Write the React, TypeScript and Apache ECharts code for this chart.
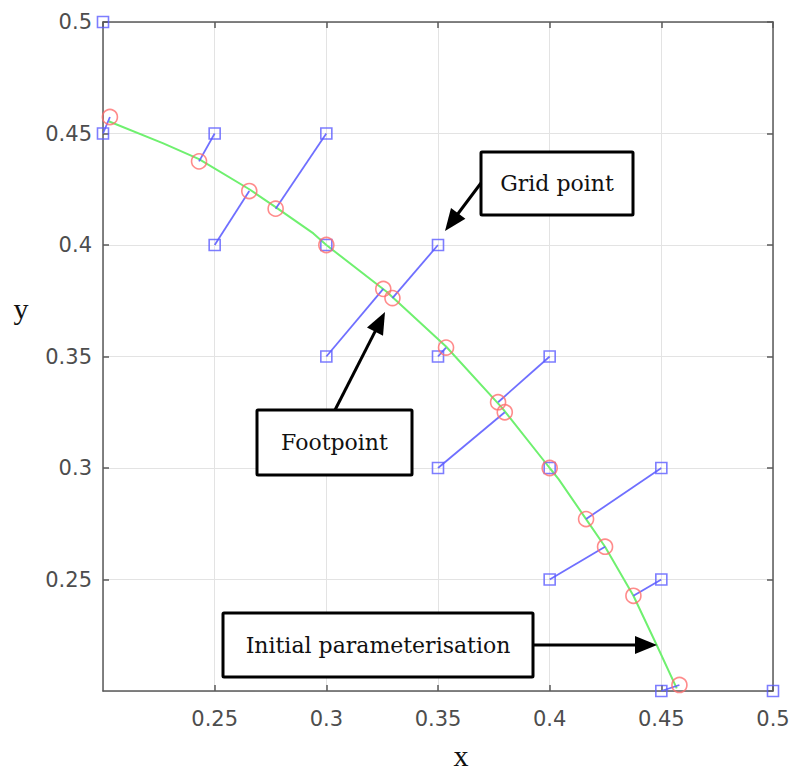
import React, { useEffect, useRef } from "react";
import * as echarts from "echarts";

// Grid points (blue squares)
const gridX = [0.2, 0.2, 0.25, 0.3, 0.25, 0.3, 0.35, 0.3, 0.35, 0.4, 0.35, 0.4, 0.45, 0.4, 0.45, 0.45, 0.5];
const gridY = [0.5, 0.45, 0.45, 0.45, 0.4, 0.4, 0.4, 0.35, 0.35, 0.35, 0.3, 0.3, 0.3, 0.25, 0.25, 0.2, 0.2];
// Footpoints (red circles), aligned with grid points (null = no footpoint)
const footX = [null, 0.2031, 0.243, 0.2773, 0.2655, 0.3, 0.3296, 0.3255, 0.3536, 0.3769, 0.3799, 0.4, 0.4163, 0.4248, 0.4375, 0.4581, null];
const footY = [null, 0.4574, 0.4375, 0.4163, 0.4242, 0.4, 0.3762, 0.3803, 0.354, 0.3295, 0.325, 0.3, 0.2771, 0.2647, 0.2427, 0.2027, null];
// Initial parameterisation (green curve)
const curveX = [0.2025, 0.227, 0.243, 0.2655, 0.2773, 0.2942, 0.3, 0.327, 0.3536, 0.3785, 0.4, 0.404, 0.4163, 0.4248, 0.4375, 0.4476, 0.4569];
const curveY = [0.4555, 0.4456, 0.4385, 0.425, 0.417, 0.4052, 0.4, 0.379, 0.3545, 0.3272, 0.3, 0.295, 0.2771, 0.2647, 0.2427, 0.2213, 0.2012];
// Tick labels
const xTickValues = [0.25, 0.3, 0.35, 0.4, 0.45, 0.5];
const xTickLabels = ["0.25", "0.3", "0.35", "0.4", "0.45", "0.5"];
const yTickValues = [0.25, 0.3, 0.35, 0.4, 0.45, 0.5];
const yTickLabels = ["0.25", "0.3", "0.35", "0.4", "0.45", "0.5"];

const AXIS_COLOR = "#5a5a5a";

function labelFor(values: number[], labels: string[]) {
  return (v: number) => {
    const i = values.findIndex((t) => Math.abs(t - v) < 1e-9);
    return i >= 0 ? labels[i] : "";
  };
}

function arrow(x1: number, y1: number, x2: number, y2: number, headLen = 22, headW = 9) {
  const dx = x2 - x1;
  const dy = y2 - y1;
  const len = Math.sqrt(dx * dx + dy * dy);
  const ux = dx / len;
  const uy = dy / len;
  const bx = x2 - ux * headLen;
  const by = y2 - uy * headLen;
  const nx = -uy;
  const ny = ux;
  return [
    {
      type: "line",
      z: 100,
      shape: { x1, y1, x2: bx + ux * 2, y2: by + uy * 2 },
      style: { stroke: "#000", lineWidth: 3 },
    },
    {
      type: "polygon",
      z: 100,
      shape: {
        points: [
          [x2, y2],
          [bx + nx * headW, by + ny * headW],
          [bx - nx * headW, by - ny * headW],
        ],
      },
      style: { fill: "#000" },
    },
  ];
}

function box(x: number, y: number, w: number, h: number, text: string) {
  return [
    {
      type: "rect",
      z: 100,
      shape: { x, y, width: w, height: h, r: 1 },
      style: { fill: "#fff", stroke: "#000", lineWidth: 3 },
    },
    {
      type: "text",
      z: 101,
      x: x + w / 2,
      y: y + h / 2,
      style: {
        text,
        fill: "#111",
        font: '22px "DejaVu Serif"',
        align: "center",
        verticalAlign: "middle",
        textAlign: "center",
        textVerticalAlign: "middle",
      },
    },
  ];
}

export default function App() {
  const ref = useRef<HTMLDivElement>(null);

  useEffect(() => {
    if (!ref.current) return;
    const chart = echarts.init(ref.current, undefined, { renderer: "svg" });

    const squares = gridX.map((x, i) => [x, gridY[i]]);
    const circles: number[][] = [];
    const links: any[] = [];
    gridX.forEach((x, i) => {
      const fx = footX[i];
      const fy = footY[i];
      if (fx !== null && fy !== null) {
        circles.push([fx, fy]);
        links.push({ coords: [[x, gridY[i]], [fx, fy]] });
      }
    });
    const curve = curveX.map((x, i) => [x, curveY[i]]);

    const baseAxis = {
      type: "value",
      min: 0.2,
      max: 0.5,
      interval: 0.05,
      axisLine: { show: true, onZero: false, lineStyle: { color: AXIS_COLOR, width: 1.5 } },
      axisTick: { show: true, inside: true, length: 6, lineStyle: { color: AXIS_COLOR, width: 1.5 } },
    };

    const labelStyle = {
      color: "#4d4d4d",
      fontFamily: "DejaVu Sans",
      fontSize: 21,
    };

    chart.setOption({
      animation: false,
      backgroundColor: "#fff",
      grid: { left: 103, top: 22, width: 670, height: 669, containLabel: false },
      xAxis: [
        {
          ...baseAxis,
          position: "bottom",
          axisLabel: {
            ...labelStyle,
            margin: 17,
            showMinLabel: false,
            formatter: labelFor(xTickValues, xTickLabels),
          },
          splitLine: { show: true, lineStyle: { color: "#e3e3e3", width: 1 } },
        },
        {
          ...baseAxis,
          position: "top",
          axisLabel: { show: false },
          splitLine: { show: false },
        },
      ],
      yAxis: [
        {
          ...baseAxis,
          position: "left",
          axisLabel: {
            ...labelStyle,
            margin: 11,
            showMinLabel: false,
            formatter: labelFor(yTickValues, yTickLabels),
          },
          splitLine: { show: true, lineStyle: { color: "#e3e3e3", width: 1 } },
        },
        {
          ...baseAxis,
          position: "right",
          axisLabel: { show: false },
          splitLine: { show: false },
        },
      ],
      series: [
        {
          type: "line",
          data: curve,
          symbol: "none",
          silent: true,
          z: 2,
          lineStyle: { color: "#6ff06f", width: 2 },
        },
        {
          type: "lines",
          coordinateSystem: "cartesian2d",
          data: links,
          silent: true,
          z: 3,
          lineStyle: { color: "rgba(95,95,255,0.9)", width: 1.8, opacity: 1 },
        },
        {
          type: "scatter",
          data: squares,
          symbol: "rect",
          symbolSize: 11,
          silent: true,
          z: 4,
          itemStyle: { color: "rgba(0,0,0,0)", borderColor: "#5c5cff", borderWidth: 1.6 },
        },
        {
          type: "scatter",
          data: circles,
          symbol: "circle",
          symbolSize: 15,
          silent: true,
          z: 5,
          itemStyle: { color: "rgba(0,0,0,0)", borderColor: "#ff6e6e", borderWidth: 1.6 },
        },
      ],
      graphic: [
        ...box(481, 152, 152, 63, "Grid point"),
        ...arrow(481, 183, 445, 231),
        ...box(257, 410, 155, 65, "Footpoint"),
        ...arrow(335, 410, 385, 312),
        ...box(223, 613, 310, 64, "Initial parameterisation"),
        ...arrow(533, 645, 657, 645),
        {
          type: "text",
          x: 461,
          y: 770,
          style: {
            text: "x",
            fill: "#111",
            font: '30px "Liberation Serif"',
            align: "center",
            verticalAlign: "bottom",
            textAlign: "center",
            textVerticalAlign: "bottom",
          },
        },
        {
          type: "text",
          x: 21,
          y: 308,
          style: {
            text: "y",
            fill: "#111",
            font: '30px "Liberation Serif"',
            align: "center",
            verticalAlign: "middle",
            textAlign: "center",
            textVerticalAlign: "middle",
          },
        },
      ],
    });

    return () => chart.dispose();
  }, []);

  return (
    <div
      ref={ref}
      style={{ position: "fixed", left: 0, top: 0, width: 795, height: 772, background: "#fff" }}
    />
  );
}
